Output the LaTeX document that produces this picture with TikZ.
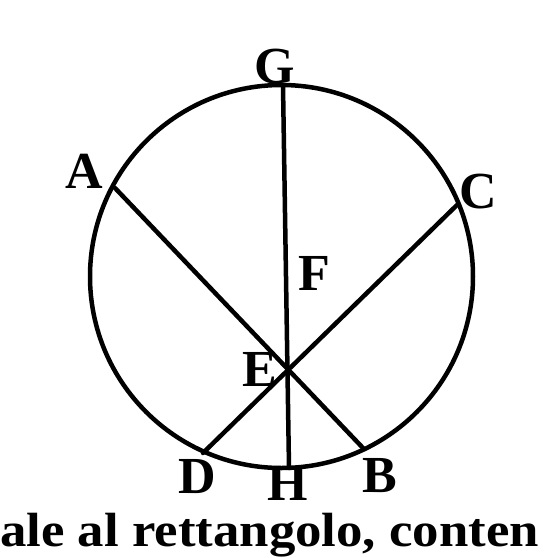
\documentclass[tikz,border=0pt]{standalone}
\usepackage{fontspec}
\setmainfont{Liberation Serif}
\tikzset{
  geo/.style={line width=4.5pt,line cap=round},
  lbl/.style={font=\fontsize{52}{52}\selectfont\bfseries,inner sep=0pt}
}

\begin{document}
\begin{tikzpicture}[x=1pt,y=-1pt]
\useasboundingbox (0,0) rectangle (553,558);
% circle and the points on it
\coordinate (O) at (281.5,276.5);
\coordinate (A) at (115,188);
\coordinate (B) at (363,448);
\coordinate (C) at (457,205);
\coordinate (D) at (203,453);
\coordinate (G) at (283,85);
\coordinate (H) at (289,468);
\draw[geo] (O) circle[radius=191.5];
\draw[geo] (A) -- (B);
\draw[geo] (C) -- (D);
\draw[geo] (G) -- (H);
% letters
\node[lbl] (lG) at (275,67) {G};
\node[lbl] (lA) at (84,171) {A};
\node[lbl] (lC) at (478,192) {C};
\node[lbl] (lF) at (314,273) {F};
\node[lbl] (lE) at (260,369) {E};
\node[lbl] (lD) at (197,477) {D};
\node[lbl] (lH) at (288,483) {H};
\node[lbl] (lB) at (380,476) {B};
% text under the figure
\node[font=\fontsize{48}{48}\selectfont\bfseries,inner sep=0pt,anchor=base west,xscale=1.1] (txt) at (0,546) {ale al rettangolo, conten};
\end{tikzpicture}
\end{document}
